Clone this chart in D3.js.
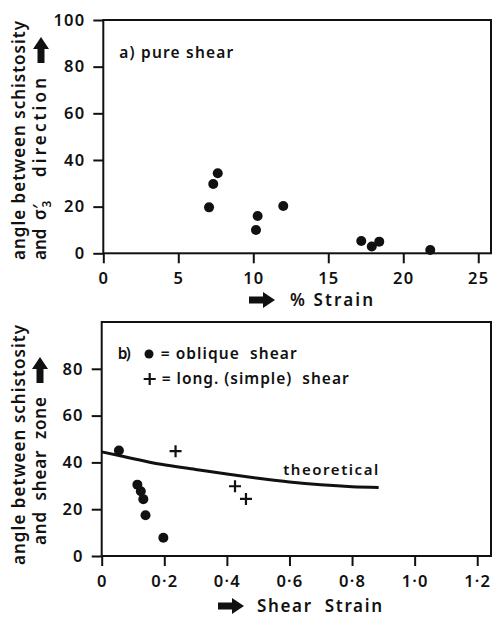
<!DOCTYPE html>
<html>
<head>
<meta charset="utf-8">
<script src="https://cdn.jsdelivr.net/npm/d3@7"></script>
<style>
  html, body { margin: 0; padding: 0; background: #fff; }
  svg text { font-family: "Noto Sans", "DejaVu Sans", sans-serif; fill: #111; white-space: pre; }
</style>
</head>
<body>
<svg id="chart" width="493" height="617"></svg>
<script>
/* Two-panel figure: schistosity angle vs strain
   a) pure shear experiments, b) oblique / simple shear with theoretical curve */

// ---- panel a data ----
var pureStrain = [7.05, 7.33, 7.63, 10.18, 10.29, 12.0, 17.2, 17.9, 18.4, 21.8];
var pureAngle = [19.7, 29.7, 34.3, 10.0, 16.0, 20.3, 5.3, 2.9, 5.0, 1.4];
var pureTicks = [0, 5, 10, 15, 20, 25];

// ---- panel b data ----
var obliqueStrain = [0.055, 0.114, 0.125, 0.133, 0.14, 0.197];
var obliqueAngle = [45.1, 30.5, 27.7, 24.3, 17.4, 7.8];
var simpleStrain = [0.236, 0.426, 0.461];
var simpleAngle = [44.8, 29.8, 24.4];
var theoryStrain = [0, 0.07, 0.19, 0.3, 0.4, 0.5, 0.6, 0.7, 0.8, 0.885];
var theoryAngle = [44.5, 42.5, 39.2, 37.0, 35.0, 33.2, 31.6, 30.4, 29.6, 29.3];
var shearTicks = [0, 0.2, 0.4, 0.6, 0.8, 1.0, 1.2];
var shearTickLabels = ["0", "0·2", "0·4", "0·6", "0·8", "1·0", "1·2"];

var angleTicksA = [0, 20, 40, 60, 80, 100];
var angleTicksB = [0, 20, 40, 60, 80];

var svg = d3.select("#chart");
var ink = "#111";

/* ---- helpers ---- */
function pick(a, b) {
  return a.map(function (v, i) { return [v, b[i]]; });
}

function frame(g, w, h) {
  g.append("rect")
    .attr("x", 0).attr("y", 0)
    .attr("width", w).attr("height", h)
    .attr("fill", "none")
    .attr("stroke", ink)
    .attr("stroke-width", 2);
}

function styleAxis(sel) {
  sel.selectAll(".domain").remove();
  sel.selectAll(".tick line").attr("stroke", ink).attr("stroke-width", 2);
  sel.selectAll(".tick text")
    .attr("font-size", "16.5px")
    .attr("font-weight", 600)
    .attr("fill", ink)
    .style("letter-spacing", "1.2px");
}

function label(g, x, y, size, len, str) {
  var t = g.append("text")
    .attr("x", x).attr("y", y)
    .attr("font-size", size + "px")
    .attr("font-weight", 600)
    .text(str);
  if (len) t.attr("textLength", len).attr("lengthAdjust", "spacing");
  return t;
}

// bold block arrow, pointing right, drawn at (x,y) centre
function arrow(g, x, y, rot) {
  g.append("path")
    .attr("d", "M-13,-3.5 L1,-3.5 L1,-8 L13,0 L1,8 L1,3.5 L-13,3.5 Z")
    .attr("fill", ink)
    .attr("transform", "translate(" + x + "," + y + ") rotate(" + (rot || 0) + ")");
}

/* ---- panel a ---- */
(function () {
  var left = 103.3, top = 20, w = 387.7, h = 233.3;
  var g = svg.append("g").attr("transform", "translate(" + left + "," + top + ")");
  var x = d3.scaleLinear().domain([0, 25.85]).range([0, w]);
  var y = d3.scaleLinear().domain([0, 100]).range([h, 0]);

  frame(g, w, h);

  g.append("g")
    .attr("transform", "translate(0," + h + ")")
    .call(d3.axisBottom(x).tickValues(pureTicks).tickSize(10).tickPadding(9).tickFormat(d3.format("d")))
    .call(styleAxis);
  g.append("g")
    .call(d3.axisLeft(y).tickValues(angleTicksA).tickSize(10).tickPadding(8).tickFormat(d3.format("d")))
    .call(styleAxis);

  g.append("g")
    .selectAll("circle")
    .data(pick(pureStrain, pureAngle))
    .join("circle")
    .attr("cx", function (d) { return x(d[0]); })
    .attr("cy", function (d) { return y(d[1]); })
    .attr("r", 5)
    .attr("fill", ink);

  label(g, 16, 38, 15.5, 114, "a) pure shear");

  // x title
  label(svg, 290, 306, 17, 83, "% Strain");
  arrow(svg, 262, 300, 0);

  // y title (two rotated lines)
  var yt = svg.append("g").attr("transform", "rotate(-90)");
  label(yt, -260, 25, 17, 239, "angle between schistosity");
  label(yt, -260, 46, 17, 0, "and");
  var sig = yt.append("text")
    .attr("x", -220).attr("y", 46)
    .attr("font-size", "17px")
    .attr("font-weight", 600);
  sig.append("tspan").text("σ′");
  sig.append("tspan").attr("dx", -3).attr("dy", 5).attr("font-size", "12px").text("3");
  label(yt, -177, 46, 17, 99, "direction");
  arrow(svg, 41, 50, -90);
})();

/* ---- panel b ---- */
(function () {
  var left = 101.7, top = 322, w = 389.3, h = 234;
  var g = svg.append("g").attr("transform", "translate(" + left + "," + top + ")");
  var x = d3.scaleLinear().domain([0, 1.244]).range([0, w]);
  var y = d3.scaleLinear().domain([0, 100]).range([h, 0]);

  frame(g, w, h);

  g.append("g")
    .attr("transform", "translate(0," + h + ")")
    .call(d3.axisBottom(x).tickValues(shearTicks).tickSize(10).tickPadding(9)
      .tickFormat(function (d, i) { return shearTickLabels[i]; }))
    .call(styleAxis);
  g.append("g")
    .call(d3.axisLeft(y).tickValues(angleTicksB).tickSize(10).tickPadding(8).tickFormat(d3.format("d")))
    .call(styleAxis);

  // theoretical curve
  var line = d3.line()
    .x(function (d) { return x(d[0]); })
    .y(function (d) { return y(d[1]); })
    .curve(d3.curveMonotoneX);
  g.append("path")
    .datum(pick(theoryStrain, theoryAngle))
    .attr("d", line)
    .attr("fill", "none")
    .attr("stroke", ink)
    .attr("stroke-width", 3);

  label(g, x(0.58), y(33.5) - 3, 15, 95, "theoretical");

  // oblique shear dots
  g.append("g")
    .selectAll("circle")
    .data(pick(obliqueStrain, obliqueAngle))
    .join("circle")
    .attr("cx", function (d) { return x(d[0]); })
    .attr("cy", function (d) { return y(d[1]); })
    .attr("r", 5)
    .attr("fill", ink);

  // simple shear crosses
  g.append("g")
    .selectAll("path")
    .data(pick(simpleStrain, simpleAngle))
    .join("path")
    .attr("d", function (d) {
      var cx = x(d[0]), cy = y(d[1]);
      return "M" + (cx - 6) + "," + cy + "H" + (cx + 6) + "M" + cx + "," + (cy - 6) + "V" + (cy + 6);
    })
    .attr("stroke", ink)
    .attr("stroke-width", 2.2)
    .attr("fill", "none");

  // legend
  label(g, 16, 37, 15.5, 13, "b)");
  g.append("circle").attr("cx", 47.3).attr("cy", 32).attr("r", 4.5).attr("fill", ink);
  label(g, 59, 37, 15.5, 136, "= oblique  shear");
  g.append("path")
    .attr("d", "M42,57H54M48,51V63")
    .attr("stroke", ink).attr("stroke-width", 2.2);
  label(g, 60, 62, 15.5, 187, "= long. (simple)  shear");

  // x title
  label(svg, 257, 612, 17, 125, "Shear  Strain");
  arrow(svg, 231, 606, 0);

  // y title
  var yt = svg.append("g").attr("transform", "rotate(-90)");
  label(yt, -565, 25, 17, 240, "angle between schistosity");
  label(yt, -545, 46, 17, 148, "and  shear  zone");
  arrow(svg, 40, 370, -90);
})();
</script>
</body>
</html>
